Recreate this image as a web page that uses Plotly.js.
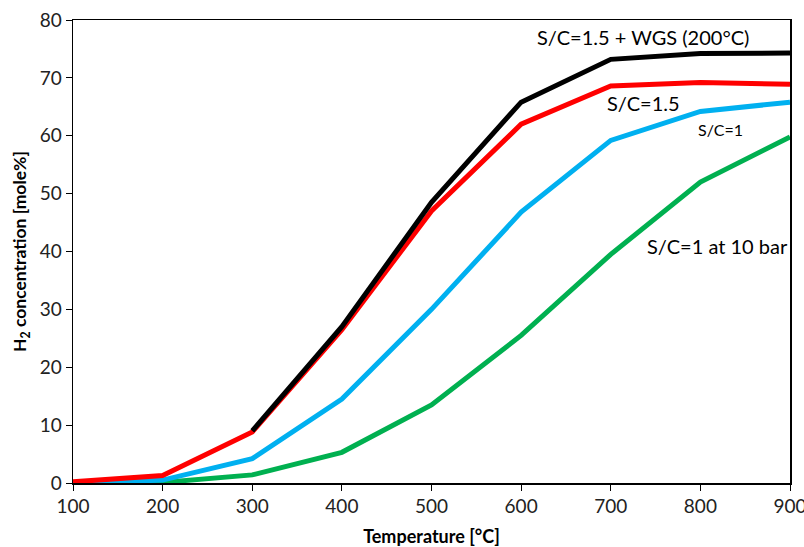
<!DOCTYPE html>
<html><head><meta charset="utf-8">
<script src="https://cdn.plot.ly/plotly-3.0.1.min.js"></script>
<style>html,body{margin:0;padding:0;background:#fff}#c{width:804px;height:547px}</style>
</head><body><div id="c"></div>
<script>
const temps = [100,200,300,400,500,600,700,800,900];
const tempsWGS = [300,400,500,600,700,800,900];
const scWGS = [9.0,27.0,48.5,65.8,73.2,74.2,74.3];
const sc15 = [0.2,1.3,8.8,26.5,47.0,62.0,68.6,69.2,68.9];
const sc1 = [0.0,0.5,4.2,14.5,30.0,46.8,59.2,64.2,65.8];
const sc1bar10 = [0.0,0.1,1.4,5.3,13.5,25.5,39.5,52.0,59.8];
const labels = ["S/C=1.5 + WGS (200\u00B0C)","S/C=1.5","S/C=1","S/C=1 at 10 bar"];
const font = "Lato, 'Open Sans', sans-serif";
const traces = [
 {x:temps,y:sc1bar10,mode:'lines',line:{color:'#00b050',width:5},name:labels[3]},
 {x:temps,y:sc1,mode:'lines',line:{color:'#00b0f0',width:5},name:labels[2]},
 {x:temps,y:sc15,mode:'lines',line:{color:'#ff0000',width:5},name:labels[1]},
 {x:tempsWGS,y:scWGS,mode:'lines',line:{color:'#000000',width:5},name:labels[0]}
];
const layout = {
 width:804,height:547,margin:{l:73,r:14,t:20,b:64},
 showlegend:false,plot_bgcolor:'#fff',paper_bgcolor:'#fff',
 font:{family:font,size:19,color:'#222'},
 xaxis:{range:[100,900],dtick:100,tick0:100,showgrid:false,zeroline:false,showline:true,linecolor:'#000',linewidth:1.5,mirror:true,ticks:'outside',ticklen:6,tickcolor:'#000',
   ticklabeloverflow:'allow',
   title:{text:'<b>Temperature [\u00B0C]</b>',font:{size:18,color:'#000'},standoff:14}},
 yaxis:{range:[0,80],dtick:10,showgrid:false,zeroline:false,showline:true,linecolor:'#000',linewidth:1.5,mirror:true,ticks:'outside',ticklen:6,tickcolor:'#000',
   title:{text:'<b>H<sub>2</sub> concentration [mole%]</b>',font:{size:17.5,color:'#000'},standoff:8}},
 annotations:[
  {x:736,y:77,text:labels[0],showarrow:false,font:{size:20,color:'#000'}},
  {x:736,y:65.6,text:labels[1],showarrow:false,font:{size:20,color:'#000'}},
  {x:822,y:61,text:labels[2],showarrow:false,font:{size:16,color:'#000'}},
  {x:819,y:41,text:labels[3],showarrow:false,font:{size:20,color:'#000'}}
 ]
};
Plotly.newPlot('c',traces,layout,{displayModeBar:false,staticPlot:true});
</script></body></html>
